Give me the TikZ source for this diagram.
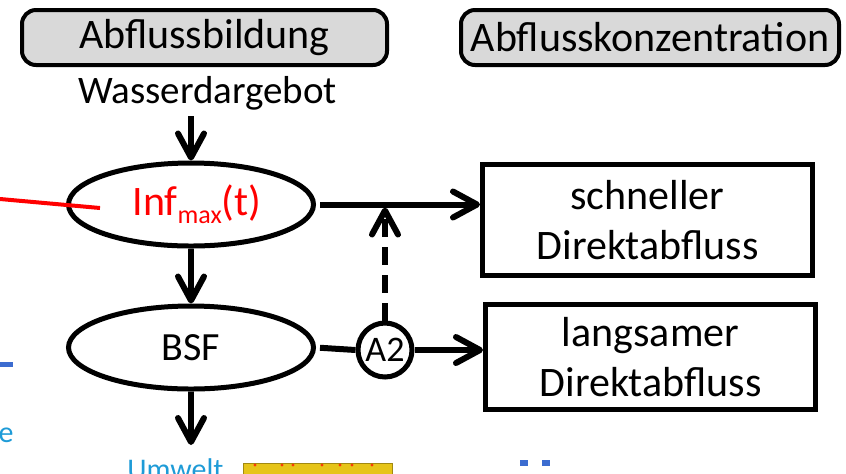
\documentclass[tikz,border=0pt]{standalone}
\usepackage{fontspec}
\setmainfont{Carlito}
\usepackage{tikz}
\usetikzlibrary{arrows.meta,shapes.geometric}

\definecolor{kopfgrau}{HTML}{D9D9D9}
\definecolor{umweltblau}{HTML}{1E9BD7}
\definecolor{linienblau}{HTML}{3C6CD0}
\definecolor{balkengelb}{HTML}{E6C419}

\tikzset{
	kopf/.style={draw, line width=2pt, rounded corners=7pt, fill=kopfgrau, minimum height=27.5pt, inner sep=0pt, font=\fontsize{21}{25}\selectfont},
	speicher/.style={draw, ellipse, line width=2.5pt, minimum width=122.5pt, minimum height=41.5pt, inner sep=0pt},
	zielbox/.style={draw, line width=2.5pt, align=center, minimum width=165pt, inner sep=0pt, font=\fontsize{21}{25}\selectfont},
	fluss/.style={line width=3pt, -{Straight Barb[length=12pt,width=13pt,round]}},
}

\begin{document}
\begin{tikzpicture}[x=0.5pt,y=-0.5pt]
	\clip (0,0) rectangle (846,473);
	
	% Kopfzeilen
	\node[kopf, minimum width=182.5pt] (kopfbildung) at (204.5,37.5) {Abflussbildung};
	\node[kopf, minimum width=189pt] (kopfkonz) at (650,37.5) {Abflusskonzentration};
	
	% linke Spalte
	\node[anchor=base, inner sep=3pt, font=\fontsize{19.5}{23}\selectfont] (wasser) at (207.5,103) {Wasserdargebot};
	\node[speicher, text=red, font=\fontsize{21}{25}\selectfont] (infmax) at (191,204.5) {\hspace*{6pt}Inf\raisebox{-4pt}{\fontsize{13}{15}\selectfont max}(t)};
	\node[speicher, font=\fontsize{20}{24}\selectfont] (bsf) at (191,347.5) {BSF};
	\coordinate (bsfaus) at (191,445);
	
	\node[draw, circle, line width=2.5pt, minimum size=27pt, inner sep=0pt, font=\fontsize{18}{21}\selectfont] (aknoten) at (385,350) {A2};
	
	% rechte Spalte
	\node[zielbox, minimum height=55.5pt] (schnell) at (647.5,220) {schneller\\Direktabfluss};
	\node[zielbox, minimum height=52.5pt] (langsam) at (650.5,357) {langsamer\\Direktabfluss};
	
	\draw[fluss] (wasser.south -| infmax.north) -- (infmax.north);
	\draw[fluss] (infmax.south) -- (bsf.north);
	\draw[fluss] (bsf.south) -- (bsfaus);
	\draw[fluss, shorten <=2pt] (infmax.east) -- (infmax.east -| schnell.west);
	\draw[line width=3pt, shorten <=2pt] (bsf.east) -- (aknoten.west);
	\draw[fluss] (aknoten.east) -- (aknoten.east -| langsam.west);
	\draw[fluss, dash pattern=on 9pt off 5pt, shorten >=1.5pt] (aknoten.north) -- (aknoten.north |- infmax.east);
	
	% Reste vom Folienrand
	\draw[red, line width=2pt] (0,199) -- (100,208);
	\fill[linienblau] (0,362) rectangle (13,367);
	\node[anchor=base east, inner sep=0pt, text=umweltblau, font=\fontsize{15}{18}\selectfont] (restne) at (14,442) {ne};
	\node[anchor=base west, inner sep=0pt, text=umweltblau, font=\fontsize{15}{18}\selectfont] (umwelt) at (127,479) {Umwelt};
	\filldraw[fill=balkengelb, draw=balkengelb!70!black, line width=0.4pt] (243,463) rectangle (392,478);
	\foreach \px in {255,282,293,322,340,352,372} {
		\fill[red!70!balkengelb] (\px,465) circle (0.8pt);
	}
	\fill[linienblau] (520,460) rectangle (528,466);
	\fill[linienblau] (542,460) rectangle (550,466);
\end{tikzpicture}
\end{document}
